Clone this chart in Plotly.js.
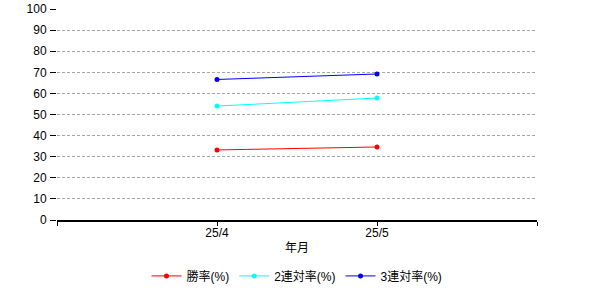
<!DOCTYPE html>
<html><head><meta charset="utf-8">
<script src="https://cdn.plot.ly/plotly-3.0.1.min.js"></script>
<style>html,body{margin:0;padding:0;background:#fff}#chart{width:600px;height:300px}</style>
</head><body><div id="chart"></div>
<script>
const categories = ['25/4', '25/5'];
const seriesNames = ['勝率(%)', '2連対率(%)', '3連対率(%)'];
const winRate = [33.2, 34.6];
const top2Rate = [54.0, 57.8];
const top3Rate = [66.6, 69.2];
const seriesColors = ['#ff0000', '#00ffff', '#0000ff'];
const yTicks = [0,10,20,30,40,50,60,70,80,90,100];
const xTitle = '年月';

const xIdx = categories.map((c, i) => i);
const data = [winRate, top2Rate, top3Rate].map((vals, i) => ({
  x: xIdx, y: vals, type: 'scatter', mode: 'lines+markers', name: seriesNames[i],
  line: {color: seriesColors[i], width: 1}, marker: {color: seriesColors[i], size: 5}
}));

const font = {family: '"Liberation Sans", "Noto Sans CJK JP", sans-serif', size: 12, color: '#000'};
const layout = {
  width: 600, height: 300,
  margin: {l: 57, r: 63, t: 9, b: 80},
  paper_bgcolor: '#fff', plot_bgcolor: '#fff',
  font: font,
  showlegend: true,
  legend: {orientation: 'h', x: 0.5, xanchor: 'center', y: -0.265, yanchor: 'middle', font: font},
  annotations: [{text: xTitle, xref: 'paper', yref: 'paper', x: 0.5, y: -0.133,
    xanchor: 'center', yanchor: 'middle', showarrow: false, font: font}],
  xaxis: {
    range: [-1, 2], tickmode: 'array', tickvals: [-1, 0, 1, 2], ticktext: ['', ...categories, ''],
    showgrid: false, zeroline: false, showline: true, linecolor: '#000', linewidth: 1.5,
    ticks: 'outside', ticklen: 4, tickcolor: '#000', ticklabelstandoff: -3,
    automargin: false, fixedrange: true
  },
  yaxis: {
    range: [0, 100], tickmode: 'array', tickvals: yTicks, automargin: false,
    showgrid: true, gridcolor: '#a8a8a8', griddash: '3px,2px', gridwidth: 1,
    zeroline: false, showline: false,
    ticks: 'outside', ticklen: 6, tickcolor: '#000', ticklabelstandoff: 1, fixedrange: true
  }
};
Plotly.newPlot('chart', data, layout, {displayModeBar: false, staticPlot: true});
</script></body></html>
